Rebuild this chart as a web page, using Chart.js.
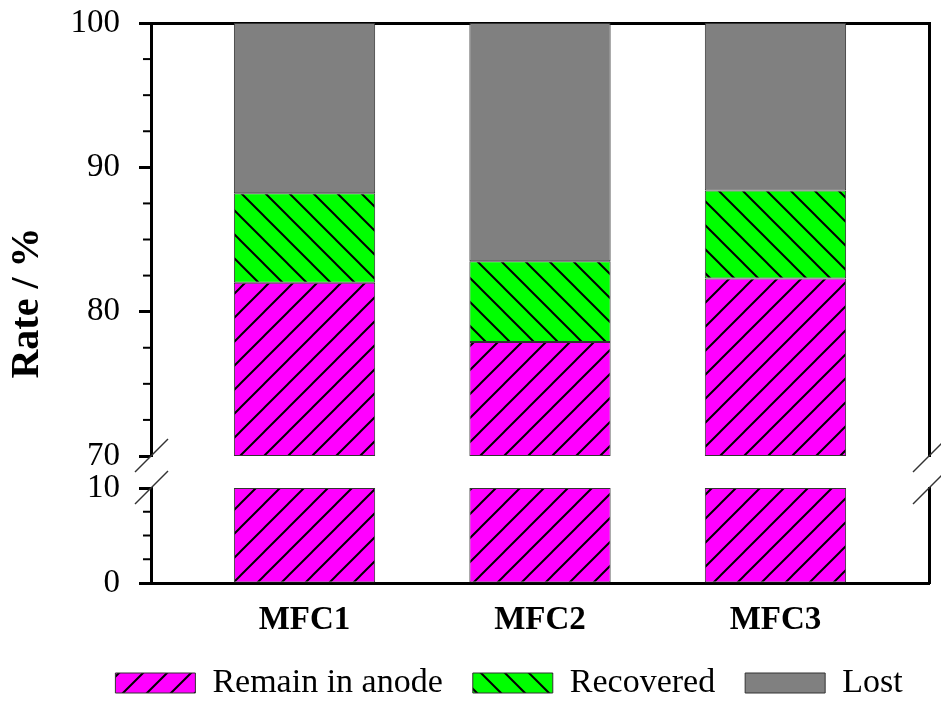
<!DOCTYPE html>
<html>
<head>
<meta charset="utf-8">
<title>Rate / %</title>
<script src="https://cdn.jsdelivr.net/npm/chart.js@4.4.0/dist/chart.umd.min.js"></script>
<style>
  body { margin: 0; background: #fff; }
  #wrap { position: relative; width: 941px; height: 702px; }
  #wrap canvas { position: absolute; left: 0; top: 0; }
</style>
</head>
<body>
<div id="wrap">
  <canvas id="chartTop" width="941" height="702"></canvas>
  <canvas id="chartBottom" width="941" height="702"></canvas>
</div>
<script>
// ── Data ──────────────────────────────────────────────────────
const categories     = ['MFC1', 'MFC2', 'MFC3'];
const remainInAnode  = [82.0, 77.9, 82.3];
const recovered      = [6.2, 5.6, 6.1];
const lost           = [11.8, 16.5, 11.6];
const seriesLabels   = ['Remain in anode', 'Recovered', 'Lost'];
const yTitle         = 'Rate / %';

// broken y axis: upper and lower segments
const yTopRange      = [70, 100];
const yBottomRange   = [0, 10];
const yStep          = 2.5;
const yMajorStep     = 10;

// ── Layout ────────────────────────────────────────────────────
const FONT       = "'Liberation Serif', 'Times New Roman', serif";
const H          = 702;
const AXIS_LEFT  = 151;      // x of the left axis line
const LEGEND_PAD = 77;       // left padding of the lower chart (centres the legend)
const RIGHT_W    = 12;
const TOP_AREA   = { top: 23, bottom: 456 };
const BOT_AREA   = { top: 488 };
const X_SPAN     = [-0.652, 2.652];

// ── Hatch patterns ────────────────────────────────────────────
function hatch(bg, forward) {
    const s = 24;
    const c = document.createElement('canvas');
    c.width = c.height = s;
    const g = c.getContext('2d');
    g.fillStyle = bg;
    g.fillRect(0, 0, s, s);
    g.strokeStyle = '#000';
    g.lineWidth = 2;
    g.beginPath();
    if (forward) {          // "/"
        g.moveTo(0, s); g.lineTo(s, 0);
        g.moveTo(-2, 2); g.lineTo(2, -2);
        g.moveTo(s - 2, s + 2); g.lineTo(s + 2, s - 2);
    } else {                // "\"
        g.moveTo(0, 0); g.lineTo(s, s);
        g.moveTo(s - 2, -2); g.lineTo(s + 2, 2);
        g.moveTo(-2, s - 2); g.lineTo(2, s + 2);
    }
    g.stroke();
    return g.createPattern(c, 'repeat');
}

const FILL_REMAIN    = hatch('#ff00ff', true);
const FILL_RECOVERED = hatch('#00ff00', false);
const FILL_LOST      = '#808080';

// ── Datasets (same for both segments) ─────────────────────────
function makeDatasets(range) {
    const [lo, hi] = range;
    const base = {
        borderColor: '#333', borderWidth: 1, borderSkipped: false,
        clip: 0, categoryPercentage: 0.6, barPercentage: 1
    };
    return [
        { ...base, label: seriesLabels[0], backgroundColor: FILL_REMAIN,
          data: remainInAnode.map((v, i) => ({ x: i, y: [lo, Math.min(v, hi)] })) },
        { ...base, label: seriesLabels[1], backgroundColor: FILL_RECOVERED,
          data: recovered.map((v, i) => ({ x: i, y: v })) },
        { ...base, label: seriesLabels[2], backgroundColor: FILL_LOST,
          data: lost.map((v, i) => ({ x: i, y: v })) }
    ];
}

// ── Extra drawing: minor ticks, break marks, y title ──────────
const axisExtras = {
    id: 'axisExtras',
    afterDraw(chart, args, opts) {
        const { ctx, chartArea: a, scales: { y } } = chart;
        ctx.save();
        ctx.strokeStyle = '#000';
        ctx.lineWidth = 2;
        y.ticks.forEach(t => {
            if (t.value % yMajorStep === 0) return;
            const py = y.getPixelForValue(t.value);
            ctx.beginPath();
            ctx.moveTo(a.left - 8, py);
            ctx.lineTo(a.left, py);
            ctx.stroke();
        });
        const cy = opts.breakEdge === 'bottom' ? a.bottom : a.top;
        ctx.lineWidth = 1.5;
        ctx.strokeStyle = '#333';
        [a.left, a.right].forEach(cx => {
            ctx.beginPath();
            ctx.moveTo(cx - 16, cy + 16);
            ctx.lineTo(cx + 17, cy - 17);
            ctx.stroke();
        });
        if (opts.title) {
            ctx.translate(28, (TOP_AREA.top + a.bottom) / 2);
            ctx.rotate(-Math.PI / 2);
            ctx.font = 'bold 40px ' + FONT;
            ctx.fillStyle = '#000';
            ctx.textAlign = 'center';
            ctx.textBaseline = 'middle';
            ctx.fillText(opts.title, 0, 0);
        }
        ctx.restore();
    }
};

// ── Options ───────────────────────────────────────────────────
function makeOptions(range, isBottom) {
    const padLeft = isBottom ? LEGEND_PAD : 0;
    const scales = {
        x: {
            type: 'linear', min: X_SPAN[0], max: X_SPAN[1], stacked: true, offset: false,
            display: isBottom, position: 'bottom',
            grid: { display: false, drawTicks: false },
            border: { display: true, width: 3, color: '#000' },
            afterBuildTicks: ax => { ax.ticks = categories.map((_, i) => ({ value: i })); },
            afterFit: ax => { ax.height = isBottom ? 53 : 0; },
            ticks: {
                padding: 18, color: '#000',
                font: { family: FONT, size: 33, weight: 'bold' },
                callback: v => categories[v]
            }
        },
        y: {
            stacked: true, min: range[0], max: range[1],
            afterFit: ax => {
                ax.width = AXIS_LEFT - padLeft;
                ax.paddingTop = 0;
                ax.paddingBottom = 0;
            },
            ticks: {
                stepSize: yStep, autoSkip: false, padding: 19, color: '#000',
                font: { family: FONT, size: 33 },
                callback: v => (v % yMajorStep === 0 ? v : '')
            },
            grid: {
                drawOnChartArea: false, tickLength: 12, tickWidth: 3,
                tickColor: c => (c.tick && c.tick.value % yMajorStep === 0 ? '#000' : 'rgba(0,0,0,0)')
            },
            border: { width: 3, color: '#000' }
        },
        yRight: {
            type: 'linear', position: 'right',
            afterFit: ax => { ax.width = RIGHT_W; },
            ticks: { display: false },
            grid: { display: false, drawTicks: false },
            border: { width: 3, color: '#000' }
        }
    };
    if (!isBottom) {
        scales.xTop = {
            type: 'linear', position: 'top', min: X_SPAN[0], max: X_SPAN[1], offset: false,
            afterFit: ax => { ax.height = 0; },
            ticks: { display: false },
            grid: { display: false, drawTicks: false },
            border: { width: 3, color: '#000' }
        };
    }
    return {
        responsive: false,
        animation: false,
        events: [],
        layout: {
            padding: isBottom
                ? { left: padLeft, right: 0, top: BOT_AREA.top, bottom: 0 }
                : { left: padLeft, right: 0, top: TOP_AREA.top, bottom: H - TOP_AREA.bottom }
        },
        scales,
        plugins: {
            tooltip: { enabled: false },
            legend: {
                display: isBottom, position: 'bottom', maxHeight: 66,
                labels: {
                    boxWidth: 80, boxHeight: 20, padding: 30, color: '#000',
                    font: { family: FONT, size: 34 }
                }
            },
            axisExtras: isBottom
                ? { breakEdge: 'top', title: yTitle }
                : { breakEdge: 'bottom', title: null }
        }
    };
}

// ── Upper segment (70–100) ────────────────────────────────────
new Chart(document.getElementById('chartTop'), {
    type: 'bar',
    data: { datasets: makeDatasets(yTopRange) },
    options: makeOptions(yTopRange, false),
    plugins: [axisExtras]
});

// ── Lower segment (0–10) + labels + legend ────────────────────
new Chart(document.getElementById('chartBottom'), {
    type: 'bar',
    data: { datasets: makeDatasets(yBottomRange) },
    options: makeOptions(yBottomRange, true),
    plugins: [axisExtras]
});
</script>
</body>
</html>
